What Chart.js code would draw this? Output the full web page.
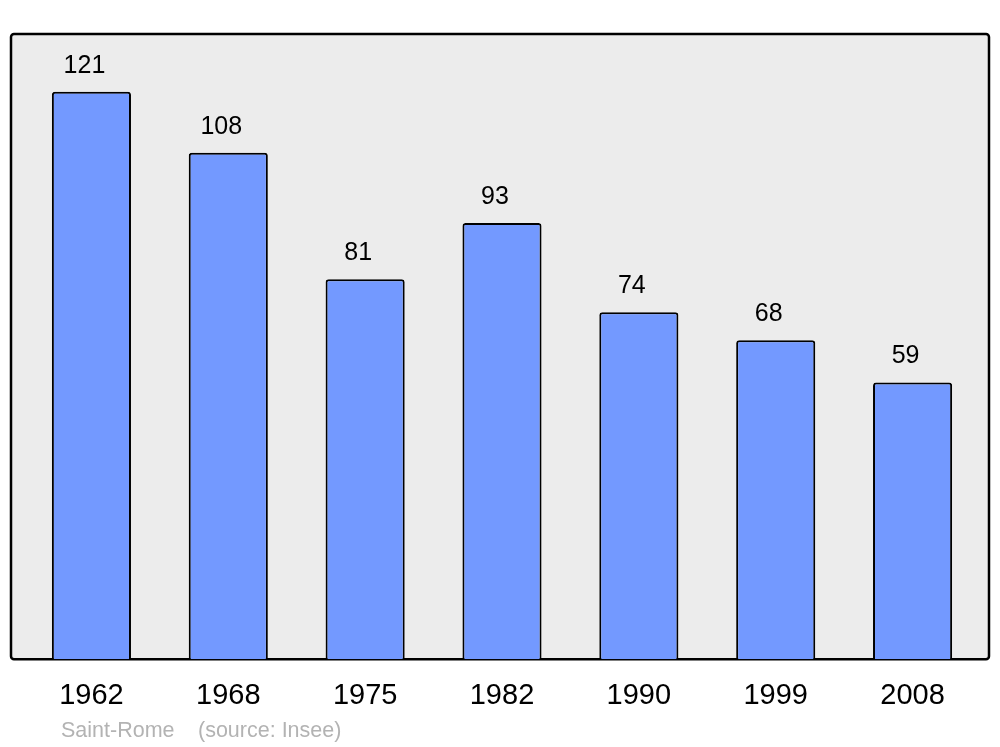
<!DOCTYPE html>
<html>
<head>
<meta charset="utf-8">
<script src="https://cdn.jsdelivr.net/npm/chart.js@4"></script>
<style>
  body { margin: 0; background: #fff; }
  canvas { display: block; }
</style>
</head>
<body>
<canvas id="popChart" width="1000" height="747"></canvas>
<script>
const years = ['1962', '1968', '1975', '1982', '1990', '1999', '2008'];
const population = [121, 108, 81, 93, 74, 68, 59];
const placeName = 'Saint-Rome';
const sourceNote = '(source: Insee)';

// grey panel behind the bars, plus the source line
const panelPlugin = {
  id: 'panel',
  beforeDraw(chart) {
    const { ctx, chartArea } = chart;
    ctx.save();
    ctx.beginPath();
    ctx.roundRect(11, chartArea.top, 978, chartArea.bottom - chartArea.top, 3);
    ctx.fillStyle = '#ececec';
    ctx.fill();
    ctx.lineWidth = 2.5;
    ctx.strokeStyle = '#000';
    ctx.stroke();
    ctx.restore();
  },
  afterDraw(chart) {
    const { ctx } = chart;
    ctx.save();
    ctx.fillStyle = '#b3b3b3';
    ctx.font = '21.5px "Liberation Sans", Arial, sans-serif';
    ctx.textBaseline = 'alphabetic';
    ctx.fillText(placeName, 61, 737);
    ctx.fillText(sourceNote, 198, 737);
    ctx.restore();
  }
};

// numbers above each bar
const valueLabels = {
  id: 'valueLabels',
  afterDatasetsDraw(chart) {
    const { ctx } = chart;
    const meta = chart.getDatasetMeta(0);
    ctx.save();
    ctx.fillStyle = '#000';
    ctx.font = '25px "Liberation Sans", Arial, sans-serif';
    ctx.textAlign = 'center';
    ctx.textBaseline = 'alphabetic';
    meta.data.forEach((bar, i) => {
      ctx.fillText(String(population[i]), bar.x - 7, bar.y - 19);
    });
    ctx.restore();
  }
};

new Chart(document.getElementById('popChart'), {
  type: 'bar',
  data: {
    labels: years,
    datasets: [{
      data: population,
      backgroundColor: '#7399ff',
      borderColor: '#000',
      borderWidth: 2,
      borderRadius: 3,
      borderSkipped: 'bottom',
      barPercentage: 1,
      categoryPercentage: 0.578
    }]
  },
  options: {
    responsive: false,
    animation: false,
    layout: { padding: { top: 34, left: 23, right: 19, bottom: 15 } },
    plugins: { legend: { display: false }, tooltip: { enabled: false } },
    scales: {
      x: {
        grid: { display: false, drawTicks: false },
        border: { display: false },
        ticks: {
          color: '#000',
          padding: 19,
          font: { family: '"Liberation Sans", Arial, sans-serif', size: 29 }
        }
      },
      y: {
        display: false,
        min: 0,
        max: 133.3
      }
    }
  },
  plugins: [panelPlugin, valueLabels]
});
</script>
</body>
</html>
